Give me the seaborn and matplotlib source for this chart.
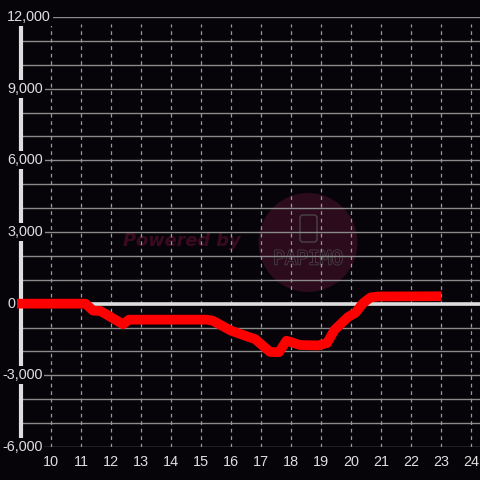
import matplotlib
matplotlib.use("Agg")
import matplotlib.pyplot as plt
import matplotlib.transforms as mtransforms
import matplotlib.patheffects as pe
from matplotlib.patches import Circle, FancyBboxPatch
import seaborn as sns

# ---- data ----
times = [9.0, 11.15, 11.4, 11.65, 12.4, 12.6, 15.2, 15.4, 16.0, 16.6, 16.8,
         17.3, 17.6, 17.85, 18.3, 18.9, 19.2, 19.45, 19.9, 20.15, 20.4,
         20.65, 20.9, 22.85]
values = [0, 0, -290, -310, -860, -670, -670, -720, -1130, -1400, -1480,
          -2020, -2030, -1550, -1730, -1750, -1650, -1100, -560, -380, 20,
          260, 300, 310]
x_ticks = list(range(10, 25))
y_labels = [12000, 9000, 6000, 3000, 0, -3000, -6000]
grid_steps = list(range(-6000, 12001, 1000))

BG = "#060408"
FG = "#dedede"

sns.set_style("dark")
plt.rcParams["font.family"] = ["Liberation Sans", "DejaVu Sans"]

W, H = 480, 480
fig = plt.figure(figsize=(4.8, 4.8), dpi=100, facecolor=BG)
ax = fig.add_axes([0, 33 / H, 1, 430 / H])
ax.set_facecolor(BG)
ax.set_xlim(8.3, 24.3)
ax.set_ylim(-6000, 12000)
for s in ax.spines.values():
    s.set_visible(False)
ax.grid(False)

# watermark
fx = lambda px: px / W
fy = lambda py: 1 - py / H
circ = Circle((fx(308), fy(242.5)), 49.5 / W, transform=fig.transFigure,
              facecolor="#2c0b1d", edgecolor="none", zorder=0.5)
ax.add_artist(circ)
phone = FancyBboxPatch((fx(300), fy(242)), 17 / W, 27 / H,
                       boxstyle="round,pad=0,rounding_size=0.006",
                       transform=fig.transFigure, facecolor="none",
                       edgecolor="#4a4448", linewidth=1.0, zorder=0.6)
ax.add_artist(phone)
ax.text(fx(273), fy(259), "PAPIMO", transform=fig.transFigure,
        family="DejaVu Sans Mono", fontsize=14, color="#2c0b1d",
        ha="left", va="center", zorder=0.7,
        path_effects=[pe.withStroke(linewidth=1.1, foreground="#4a4448")])
ax.text(fx(123), fy(241), "Powered by", transform=fig.transFigure,
        family="DejaVu Sans", fontweight="bold", style="italic",
        fontsize=12.8, color="#3a0b20", ha="left", va="center", zorder=0.7)

# grid
ax.hlines(grid_steps, 9, 24.3, colors="#8a8a8a", linewidth=1, zorder=1)
ax.vlines(x_ticks, -6000, 11700, colors="#9a9a9a", linewidth=0.9,
          linestyles=(0, (3, 3)), zorder=1)
ax.axhline(0, xmin=(9 - 8.3) / 16, color=FG, linewidth=2.6, zorder=3)
ax.vlines([9], -6000, 11700, colors=FG, linewidth=3, zorder=3)

# line
sns.lineplot(x=times, y=values, ax=ax, color="#ff0000", linewidth=7,
             estimator=None, sort=False, solid_capstyle="projecting",
             solid_joinstyle="round", zorder=4)

# x ticks
ax.set_xticks(x_ticks)
ax.set_xticklabels([str(t) for t in x_ticks])
ax.tick_params(axis="x", length=0, pad=5.5, labelsize=10.4, colors=FG)
ax.set_yticks([])
ax.set_xlabel("")
ax.set_ylabel("")

# y labels
trans = mtransforms.blended_transform_factory(fig.transFigure, ax.transData)
for v in y_labels:
    xp = 7 if v >= 0 else 2
    ax.text(xp / W, v, f"{v:,}", transform=trans, ha="left", va="center",
            fontsize=10.4, color=FG, zorder=5, clip_on=False,
            bbox=dict(facecolor=BG, edgecolor="none", pad=1.5))

fig.savefig("out.png", dpi=100, facecolor=BG)
